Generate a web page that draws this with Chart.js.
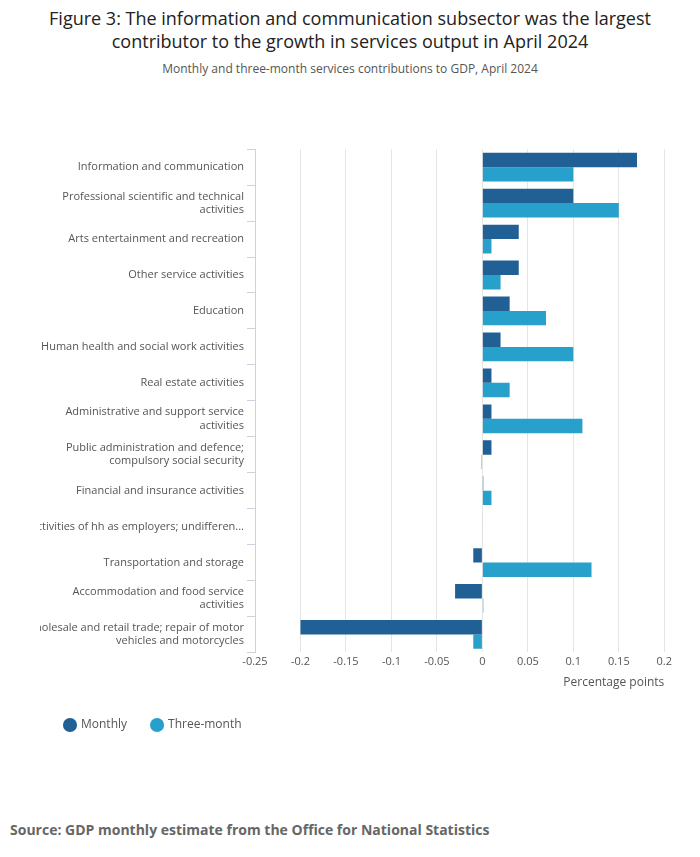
<!DOCTYPE html>
<html>
<head>
<meta charset="utf-8">
<script src="https://cdn.jsdelivr.net/npm/chart.js@4"></script>
<style>
  body { margin: 0; font-family: "Open Sans", sans-serif; background: #fff; color: #414042; }
  h1 { font-size: 18px; font-weight: 400; text-align: center; margin: 7px 20px 0; line-height: 23px; color: #222; }
  .sub { font-size: 12px; text-align: center; margin-top: 7px; color: #555; }
  #wrap { position: absolute; left: 10px; top: 133px; width: 665px; height: 608px; }
  .source { position: absolute; left: 10px; top: 820px; font-size: 14px; font-weight: 700; color: #666; }
</style>
</head>
<body>
<h1>Figure 3: The information and communication subsector was the largest contributor to the growth in services output in April 2024</h1>
<div class="sub">Monthly and three-month services contributions to GDP, April 2024</div>
<div id="wrap"><canvas id="chart"></canvas></div>
<div class="source">Source: GDP monthly estimate from the Office for National Statistics</div>
<script>
// ---------- DATA ----------
const categories = [
  "Information and communication",
  ["Professional scientific and technical", "activities"],
  "Arts entertainment and recreation",
  "Other service activities",
  "Education",
  "Human health and social work activities",
  "Real estate activities",
  ["Administrative and support service", "activities"],
  ["Public administration and defence;", "compulsory social security"],
  "Financial and insurance activities",
  "Activities of hh as employers; undifferen...",
  "Transportation and storage",
  ["Accommodation and food service", "activities"],
  ["Wholesale and retail trade; repair of motor", "vehicles and motorcycles"]
];
const monthly    = [0.17, 0.10, 0.04, 0.04, 0.03, 0.02, 0.01, 0.01, 0.01, 0.001, 0.0005, -0.01, -0.03, -0.20];
const threeMonth = [0.10, 0.15, 0.01, 0.02, 0.07, 0.10, 0.03, 0.11, -0.001, 0.01, 0.0005, 0.12, 0.001, -0.01];

// ---------- CHART ----------
new Chart(document.getElementById('chart'), {
  type: 'bar',
  data: {
    labels: categories,
    datasets: [
      { label: 'Monthly', data: monthly, backgroundColor: '#206095', categoryPercentage: 0.8, barPercentage: 1 },
      { label: 'Three-month', data: threeMonth, backgroundColor: '#27a0cc', categoryPercentage: 0.8, barPercentage: 1 }
    ]
  },
  options: {
    indexAxis: 'y',
    responsive: true,
    maintainAspectRatio: false,
    animation: false,
    layout: { padding: { right: 10, left: 30 } },
    scales: {
      x: {
        min: -0.25, max: 0.2,
        ticks: { stepSize: 0.05, color: '#555', font: { family: 'Open Sans', size: 11 },
          callback: v => Math.round(v * 100) / 100 },
        grid: { color: '#e5e5e5', drawTicks: false },
        border: { display: false },
        title: { display: true, text: 'Percentage points', align: 'end', color: '#555', font: { family: 'Open Sans', size: 12 } }
      },
      y: {
        afterFit: s => { s.width = 215; },
        ticks: { color: '#555', font: { family: 'Open Sans', size: 11 } },
        grid: { offset: true, drawOnChartArea: false, tickLength: 8, color: '#d0d0e0' },
        border: { color: '#d0d0e0' }
      }
    },
    plugins: {
      legend: {
        position: 'bottom', align: 'start',
        labels: { usePointStyle: true, pointStyle: 'circle', boxWidth: 10, boxHeight: 10, padding: 25, color: '#555',
          font: { family: 'Open Sans', size: 12 } }
      },
      tooltip: { enabled: false }
    }
  }
});
</script>
</body>
</html>
